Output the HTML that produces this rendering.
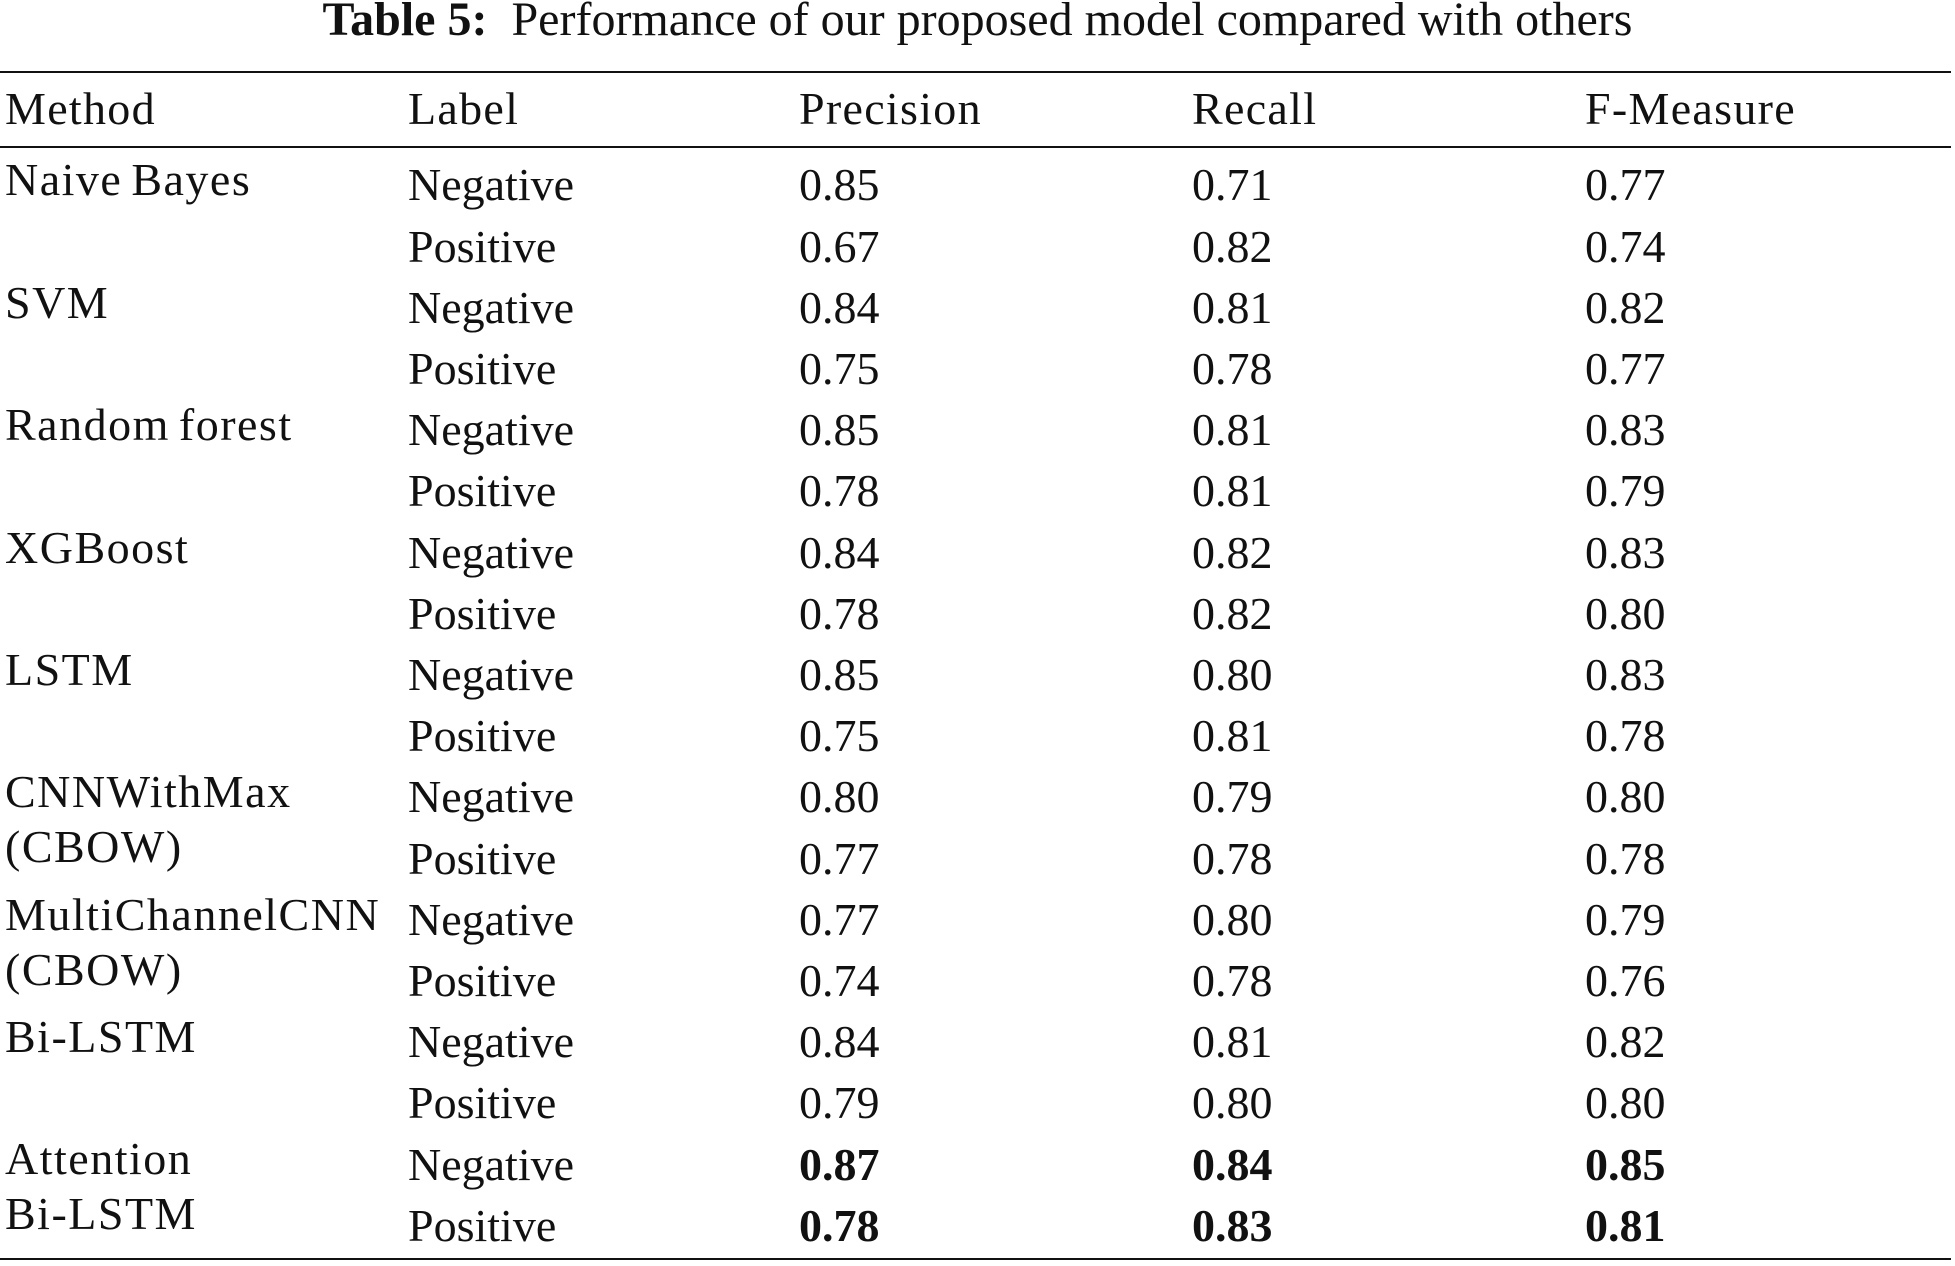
<!DOCTYPE html>
<html><head><meta charset="utf-8"><style>
body{margin:0;width:1955px;height:1266px;background:#fff;position:relative;overflow:hidden;font-family:"Liberation Serif",serif;color:#111;}
.t{position:absolute;left:0;width:1955px;top:-4px;text-align:center;font-size:48px;line-height:48px;}
.r{position:absolute;left:0;width:1955px;height:46px;font-size:46px;line-height:46px;}
.r span{position:absolute;white-space:nowrap;}
.hd span{letter-spacing:1.3px;}
.a{left:5px}.b{left:408px}.c{left:799px}.d{left:1192px}.e{left:1585px}
.m{position:absolute;left:5px;font-size:46px;line-height:46px;white-space:nowrap;letter-spacing:1.5px;word-spacing:-4px;}
.h{position:absolute;left:0;width:1951px;height:2px;background:#111;}
</style></head><body>
<div class="t"><b>Table 5:</b>&nbsp; Performance of our proposed model compared with others</div>
<div class="h" style="top:71px"></div>
<div class="r hd" style="top:86px"><span class="a">Method</span><span class="b">Label</span><span class="c">Precision</span><span class="d">Recall</span><span class="e">F-Measure</span></div>
<div class="h" style="top:146px"></div>

<div class="m" style="top:157px">Naive Bayes</div>
<div class="m" style="top:280px">SVM</div>
<div class="m" style="top:402px">Random forest</div>
<div class="m" style="top:525px">XGBoost</div>
<div class="m" style="top:647px">LSTM</div>
<div class="m" style="top:769px">CNNWithMax</div>
<div class="m" style="top:824px">(CBOW)</div>
<div class="m" style="top:892px">MultiChannelCNN</div>
<div class="m" style="top:947px">(CBOW)</div>
<div class="m" style="top:1014px">Bi-LSTM</div>
<div class="m" style="top:1136px">Attention</div>
<div class="m" style="top:1191px">Bi-LSTM</div>

<div class="r" style="top:162px"><span class="b">Negative</span><span class="c">0.85</span><span class="d">0.71</span><span class="e">0.77</span></div>
<div class="r" style="top:223.5px"><span class="b">Positive</span><span class="c">0.67</span><span class="d">0.82</span><span class="e">0.74</span></div>
<div class="r" style="top:285px"><span class="b">Negative</span><span class="c">0.84</span><span class="d">0.81</span><span class="e">0.82</span></div>
<div class="r" style="top:346px"><span class="b">Positive</span><span class="c">0.75</span><span class="d">0.78</span><span class="e">0.77</span></div>
<div class="r" style="top:407px"><span class="b">Negative</span><span class="c">0.85</span><span class="d">0.81</span><span class="e">0.83</span></div>
<div class="r" style="top:468px"><span class="b">Positive</span><span class="c">0.78</span><span class="d">0.81</span><span class="e">0.79</span></div>
<div class="r" style="top:529.5px"><span class="b">Negative</span><span class="c">0.84</span><span class="d">0.82</span><span class="e">0.83</span></div>
<div class="r" style="top:591px"><span class="b">Positive</span><span class="c">0.78</span><span class="d">0.82</span><span class="e">0.80</span></div>
<div class="r" style="top:652px"><span class="b">Negative</span><span class="c">0.85</span><span class="d">0.80</span><span class="e">0.83</span></div>
<div class="r" style="top:713px"><span class="b">Positive</span><span class="c">0.75</span><span class="d">0.81</span><span class="e">0.78</span></div>
<div class="r" style="top:774px"><span class="b">Negative</span><span class="c">0.80</span><span class="d">0.79</span><span class="e">0.80</span></div>
<div class="r" style="top:835.5px"><span class="b">Positive</span><span class="c">0.77</span><span class="d">0.78</span><span class="e">0.78</span></div>
<div class="r" style="top:897px"><span class="b">Negative</span><span class="c">0.77</span><span class="d">0.80</span><span class="e">0.79</span></div>
<div class="r" style="top:958px"><span class="b">Positive</span><span class="c">0.74</span><span class="d">0.78</span><span class="e">0.76</span></div>
<div class="r" style="top:1019px"><span class="b">Negative</span><span class="c">0.84</span><span class="d">0.81</span><span class="e">0.82</span></div>
<div class="r" style="top:1080px"><span class="b">Positive</span><span class="c">0.79</span><span class="d">0.80</span><span class="e">0.80</span></div>
<div class="r" style="top:1141.5px"><span class="b">Negative</span><span class="c"><b>0.87</b></span><span class="d"><b>0.84</b></span><span class="e"><b>0.85</b></span></div>
<div class="r" style="top:1203px"><span class="b">Positive</span><span class="c"><b>0.78</b></span><span class="d"><b>0.83</b></span><span class="e"><b>0.81</b></span></div>
<div class="h" style="top:1258px"></div>
</body></html>
